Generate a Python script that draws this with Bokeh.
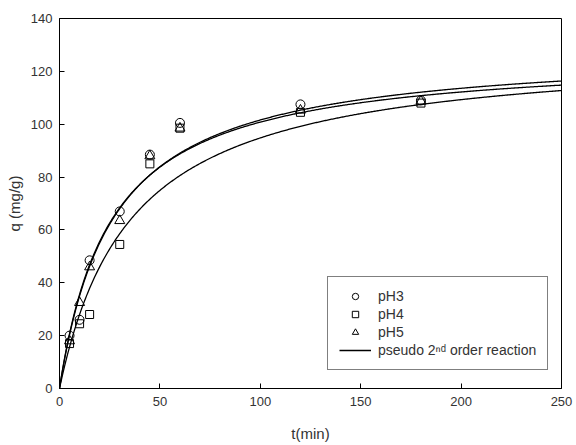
import numpy as np
from bokeh.plotting import figure
from bokeh.models import Range1d, FixedTicker, Legend, LegendItem
from bokeh.embed import file_html
from bokeh.resources import INLINE

# Contact time (min) and measured uptake q (mg/g) at three pH values
t_min = [5, 10, 15, 30, 45, 60, 120, 180]
q_ph3 = [20, 26, 48.5, 67, 88.5, 100.5, 107.5, 109]
q_ph4 = [17, 24.5, 28, 54.5, 85, 98.5, 104.5, 108]
q_ph5 = [18, 32.5, 46, 63.5, 88, 98.5, 105.3, 108.7]

# Pseudo-second-order fit parameters per pH: qe (mg/g), k2 (g/mg/min)
fit_labels = ["pH3", "pH4", "pH5"]
fit_qe = [128.8, 129.0, 126.5]
fit_k2 = [2.90e-4, 2.15e-4, 3.10e-4]

x_ticks = [0, 50, 100, 150, 200, 250]
y_ticks = [0, 20, 40, 60, 80, 100, 120, 140]

FONT = "Liberation Sans"
TXT = "#333333"

p = figure(width=576, height=445, output_backend="svg", toolbar_location=None,
           x_range=Range1d(0, 250), y_range=Range1d(0, 140),
           min_border_left=59, min_border_right=15, min_border_top=18,
           min_border_bottom=57)
p.xgrid.visible = False
p.ygrid.visible = False
p.outline_line_color = "black"
p.outline_line_width = 1
p.background_fill_color = "white"
p.border_fill_color = "white"

for ax, ticks in ((p.xaxis[0], x_ticks), (p.yaxis[0], y_ticks)):
    ax.ticker = FixedTicker(ticks=ticks)
    ax.minor_tick_line_color = None
    ax.major_tick_in = 5
    ax.major_tick_out = 0
    ax.axis_line_color = "black"
    ax.major_tick_line_color = "black"
    ax.major_label_text_font = FONT
    ax.major_label_text_font_size = "13px"
    ax.major_label_text_color = TXT
    ax.axis_label_text_font = FONT
    ax.axis_label_text_font_size = "15px"
    ax.axis_label_text_font_style = "normal"
    ax.axis_label_text_color = TXT

p.xaxis.axis_label = "t(min)"
p.yaxis.axis_label = "q (mg/g)"
p.xaxis.major_label_standoff = 8
p.yaxis.major_label_standoff = 7
p.xaxis.axis_label_standoff = 16
p.yaxis.axis_label_standoff = 5

# Model curves q(t) = qe^2 k2 t / (1 + qe k2 t)
t_fit = np.linspace(0, 250, 501)
line_r = None
for qe, k2 in zip(fit_qe, fit_k2):
    q_fit = qe * qe * k2 * t_fit / (1.0 + qe * k2 * t_fit)
    line_r = p.line(t_fit, q_fit, line_color="black", line_width=1.3)

r3 = p.scatter(t_min, q_ph3, marker="circle", size=9, fill_color=None,
               line_color="black", line_width=1)
r4 = p.scatter(t_min, q_ph4, marker="square", size=8, fill_color=None,
               line_color="black", line_width=1)
r5 = p.scatter(t_min, q_ph5, marker="triangle", size=10, fill_color=None,
               line_color="black", line_width=1)

legend = Legend(items=[
    LegendItem(label="pH3", renderers=[r3]),
    LegendItem(label="pH4", renderers=[r4]),
    LegendItem(label="pH5", renderers=[r5]),
    LegendItem(label="pseudo 2\u207f\u1d48 order reaction", renderers=[line_r]),
], location=(268, 18))
legend.border_line_color = "black"
legend.border_line_width = 1
legend.background_fill_alpha = 1
legend.label_text_font = FONT
legend.label_text_font_size = "14px"
legend.label_text_color = TXT
legend.glyph_width = 32
legend.glyph_height = 16
legend.label_height = 16
legend.label_standoff = 7
legend.spacing = 2
legend.padding = 11
legend.margin = 0
p.add_layout(legend)

open("out.html", "w").write(file_html(p, INLINE))
